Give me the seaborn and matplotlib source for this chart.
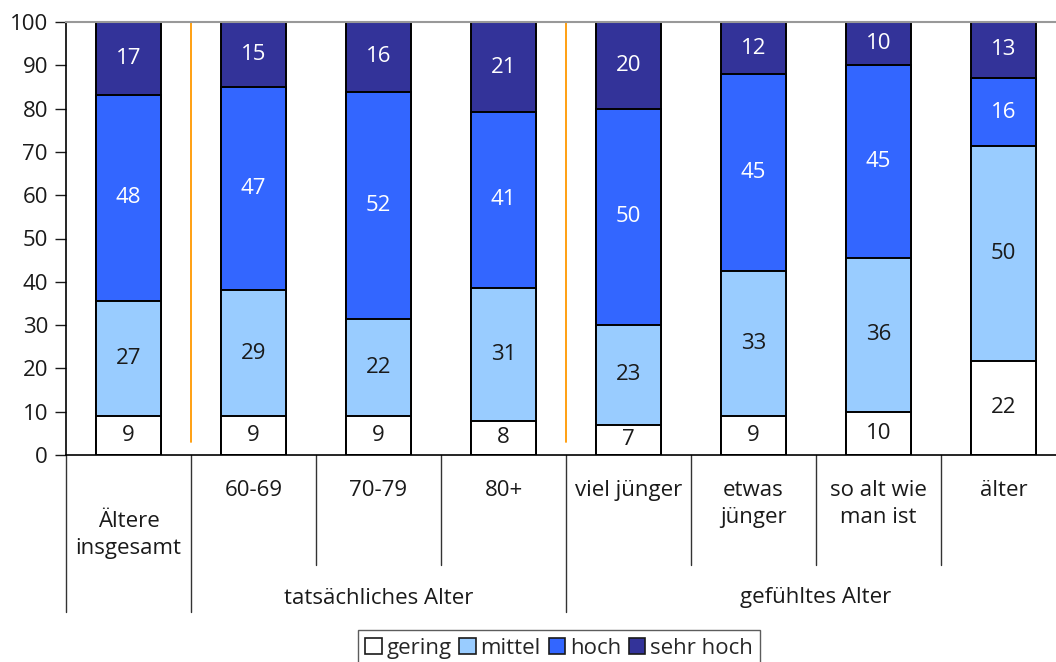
import numpy as np
import pandas as pd
import matplotlib
matplotlib.use("Agg")
import matplotlib.pyplot as plt
from matplotlib.patches import Patch
import seaborn as sns

# --- data -------------------------------------------------------------
categories = ["Ältere\ninsgesamt", "60-69", "70-79", "80+",
              "viel jünger", "etwas\njünger", "so alt wie\nman ist", "älter"]
gering    = [9, 9, 9, 8, 7, 9, 10, 22]
mittel    = [27, 29, 22, 31, 23, 33, 36, 50]
hoch      = [48, 47, 52, 41, 50, 45, 45, 16]
sehr_hoch = [17, 15, 16, 21, 20, 12, 10, 13]
series_names = ["gering", "mittel", "hoch", "sehr hoch"]
groups = ["tatsächliches Alter", "gefühltes Alter"]
y_ticks = [0, 10, 20, 30, 40, 50, 60, 70, 80, 90, 100]

colors = ["#FFFFFF", "#99CCFF", "#3366FF", "#333399"]
text_colors = ["#1a1a1a", "#1a1a1a", "#FFFFFF", "#FFFFFF"]
FS = 16

sns.set_style("white")
plt.rcParams["font.family"] = ["Open Sans", "DejaVu Sans"]

vals = np.array([gering, mittel, hoch, sehr_hoch], dtype=float)
# each column shown as its share of 100 %
shares = vals / vals.sum(axis=0) * 100
cum = np.cumsum(shares, axis=0)

W, H = 1056, 662
fig = plt.figure(figsize=(W / 100, H / 100), dpi=100)
# plot area: left edge 66 px, top 22 px, bottom 455 px, 125 px per category
ax = fig.add_axes([66 / W, 1 - 455 / H, 1000 / W, 433 / H])

df = pd.DataFrame({"cat": categories})
# draw cumulative layers from the tallest down so each segment shows
for i in range(3, -1, -1):
    sns.barplot(x=df["cat"], y=cum[i], color=colors[i], saturation=1,
                width=0.525, edgecolor="black", linewidth=1.4,
                errorbar=None, ax=ax, order=categories)

# value labels in the middle of each segment
for i in range(4):
    base = cum[i] - shares[i]
    for j in range(len(categories)):
        ax.text(j, base[j] + shares[i][j] / 2, f"{int(vals[i][j])}",
                ha="center", va="center", fontsize=FS, color=text_colors[i])

ax.set_xlim(-0.5, 7.5)
ax.set_ylim(0, 100)
ax.set_yticks(y_ticks)
ax.tick_params(axis="y", direction="out", length=8, width=1, pad=5,
               labelsize=FS, colors="#1a1a1a", left=True)
ax.set_xticks([])
ax.set_xlabel("")
ax.set_ylabel("")
for s in ["left", "bottom"]:
    ax.spines[s].set_color("black")
    ax.spines[s].set_linewidth(1.2)
ax.spines["top"].set_color("#999999")
ax.spines["top"].set_linewidth(1.5)
ax.spines["right"].set_visible(False)

# orange separators between the groups
for xs in [0.5, 3.5]:
    ax.plot([xs, xs], [3, 100], color="#FF9900", lw=1.3, zorder=0)

# table-like category axis below the plot
tr = ax.get_xaxis_transform()
long_y = (455 - 612) / 433
short_y = (455 - 565) / 433
for xs in [-0.5, 0.5, 3.5]:
    ax.plot([xs, xs], [0, long_y], color="#333333", lw=1, transform=tr, clip_on=False)
for xs in [1.5, 2.5, 4.5, 5.5, 6.5, 7.5]:
    ax.plot([xs, xs], [0, short_y], color="#333333", lw=1, transform=tr, clip_on=False)

for j, c in enumerate(categories):
    if j == 0:
        ax.text(j, (455 - 535) / 433, c, transform=tr, ha="center", va="center",
                fontsize=FS, color="#1a1a1a", linespacing=1.4)
    else:
        ax.text(j, (455 - 480) / 433, c, transform=tr, ha="center", va="top",
                fontsize=FS, color="#1a1a1a", linespacing=1.4)

ax.text(2, (455 - 598) / 433, groups[0], transform=tr, ha="center", va="center",
        fontsize=FS, color="#1a1a1a")
ax.text(5.5, (455 - 598) / 433, groups[1], transform=tr, ha="center", va="center",
        fontsize=FS, color="#1a1a1a")

handles = [Patch(facecolor=colors[i], edgecolor="#1a1a1a", linewidth=1.2,
                 label=series_names[i]) for i in range(4)]
leg = fig.legend(handles=handles, loc="upper center",
                 bbox_to_anchor=(559 / W, 1 - 630 / H), ncol=4, fontsize=FS,
                 frameon=True, fancybox=False, handlelength=0.75,
                 handleheight=0.75, handletextpad=0.2, columnspacing=0.35,
                 borderpad=0.35, borderaxespad=0)
leg.get_frame().set_edgecolor("#333333")
leg.get_frame().set_linewidth(1)

fig.savefig("out.png", dpi=100)
